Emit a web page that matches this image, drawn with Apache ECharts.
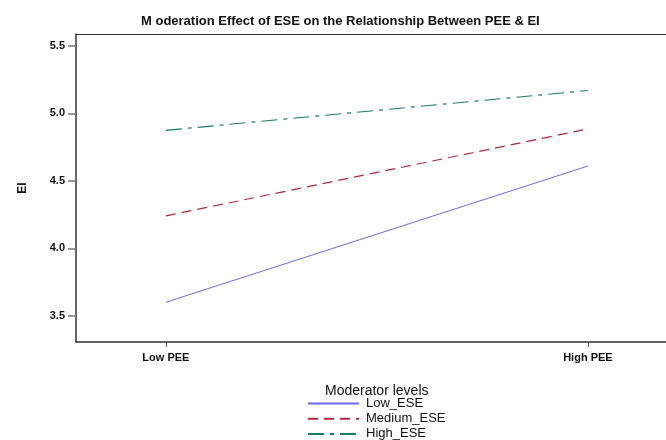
<!DOCTYPE html>
<html>
<head>
<meta charset="utf-8">
<script src="https://cdn.jsdelivr.net/npm/echarts@6/dist/echarts.min.js"></script>
<style>
  html, body { margin: 0; padding: 0; background: #fff; }
  #chart { width: 666px; height: 440px; }
</style>
</head>
<body>
<div id="chart"></div>
<script>
// 数据
var peeLevels = ['Low PEE', 'High PEE'];
var peeValues = [0, 1];
var yTicks = [3.5, 4.0, 4.5, 5.0, 5.5];
var seriesNames = ['Low_ESE', 'Medium_ESE', 'High_ESE'];
var lowEse = [3.60, 4.61];
var mediumEse = [4.24, 4.885];
var highEse = [4.875, 5.17];

var font = '"Liberation Sans", Arial, sans-serif';

function toPoints(vals) {
  return vals.map(function (v, i) { return [peeValues[i], v]; });
}

var myChart = echarts.init(document.getElementById('chart'));

myChart.setOption({
  animation: false,
  title: [
    {
      text: 'M oderation Effect of ESE on the Relationship Between PEE & EI',
      left: 136,
      top: 10,
      textStyle: { fontFamily: font, fontSize: 13, fontWeight: 'bold', color: '#111' }
    },
    {
      text: 'Moderator levels',
      left: 320,
      top: 379,
      textStyle: { fontFamily: font, fontSize: 14, fontWeight: 'normal', color: '#111' }
    }
  ],
  legend: {
    orient: 'vertical',
    left: 307,
    top: 397,
    height: 60,
    itemWidth: 51,
    itemHeight: 10,
    itemGap: 2.2,
    padding: 0,
    itemStyle: { opacity: 0 },
    textStyle: { fontFamily: font, fontSize: 13, lineHeight: 10, color: '#111', padding: [0, 0, 0, 2] },
    data: seriesNames
  },
  grid: {
    left: 76,
    top: 34,
    right: 0,
    bottom: 98
  },
  xAxis: [
    {
      type: 'value',
      min: -0.213,
      max: 1.185,
      splitLine: { show: false },
      axisLine: { show: true, onZero: false, lineStyle: { color: '#333', width: 1.5 } },
      axisTick: {
        show: true,
        customValues: peeValues,
        length: 5,
        lineStyle: { color: '#555' }
      },
      axisLabel: {
        customValues: peeValues,
        margin: 10,
        fontFamily: font,
        fontSize: 11,
        fontWeight: 'bold',
        color: '#111',
        formatter: function (v) {
          var i = peeValues.indexOf(v);
          return i >= 0 ? peeLevels[i] : '';
        }
      }
    },
    {
      // 顶部边框线
      type: 'value',
      position: 'top',
      min: -0.213,
      max: 1.185,
      splitLine: { show: false },
      axisLine: { show: true, onZero: false, lineStyle: { color: '#333', width: 1 } },
      axisTick: { show: false },
      axisLabel: { show: false }
    }
  ],
  yAxis: {
    type: 'value',
    min: 3.305,
    max: 5.589,
    name: 'EI',
    nameLocation: 'middle',
    nameGap: 47,
    nameTextStyle: { fontFamily: font, fontSize: 12, fontWeight: 'bold', color: '#111' },
    splitLine: { show: false },
    axisLine: { show: true, onZero: false, lineStyle: { color: '#333', width: 1.5 } },
    axisTick: {
      show: true,
      customValues: yTicks,
      length: 8,
      lineStyle: { color: '#777', width: 1.5 }
    },
    axisLabel: {
      customValues: yTicks,
      margin: 11,
      fontFamily: font,
      fontSize: 11,
      fontWeight: 'bold',
      color: '#111',
      formatter: function (v) { return v.toFixed(1); }
    }
  },
  series: [
    {
      name: seriesNames[0],
      type: 'line',
      symbol: 'none',
      lineStyle: { color: '#6a6aee', width: 1 },
      itemStyle: { color: '#6a6aee' },
      data: toPoints(lowEse)
    },
    {
      name: seriesNames[1],
      type: 'line',
      symbol: 'none',
      lineStyle: { color: '#b3293c', width: 1.2, type: [10, 6] },
      itemStyle: { color: '#b3293c' },
      data: toPoints(mediumEse)
    },
    {
      name: seriesNames[2],
      type: 'line',
      symbol: 'none',
      lineStyle: { color: '#1c7a6c', width: 1.2, type: [16, 6, 4, 6] },
      itemStyle: { color: '#1c7a6c' },
      data: toPoints(highEse)
    }
  ]
});
</script>
</body>
</html>
